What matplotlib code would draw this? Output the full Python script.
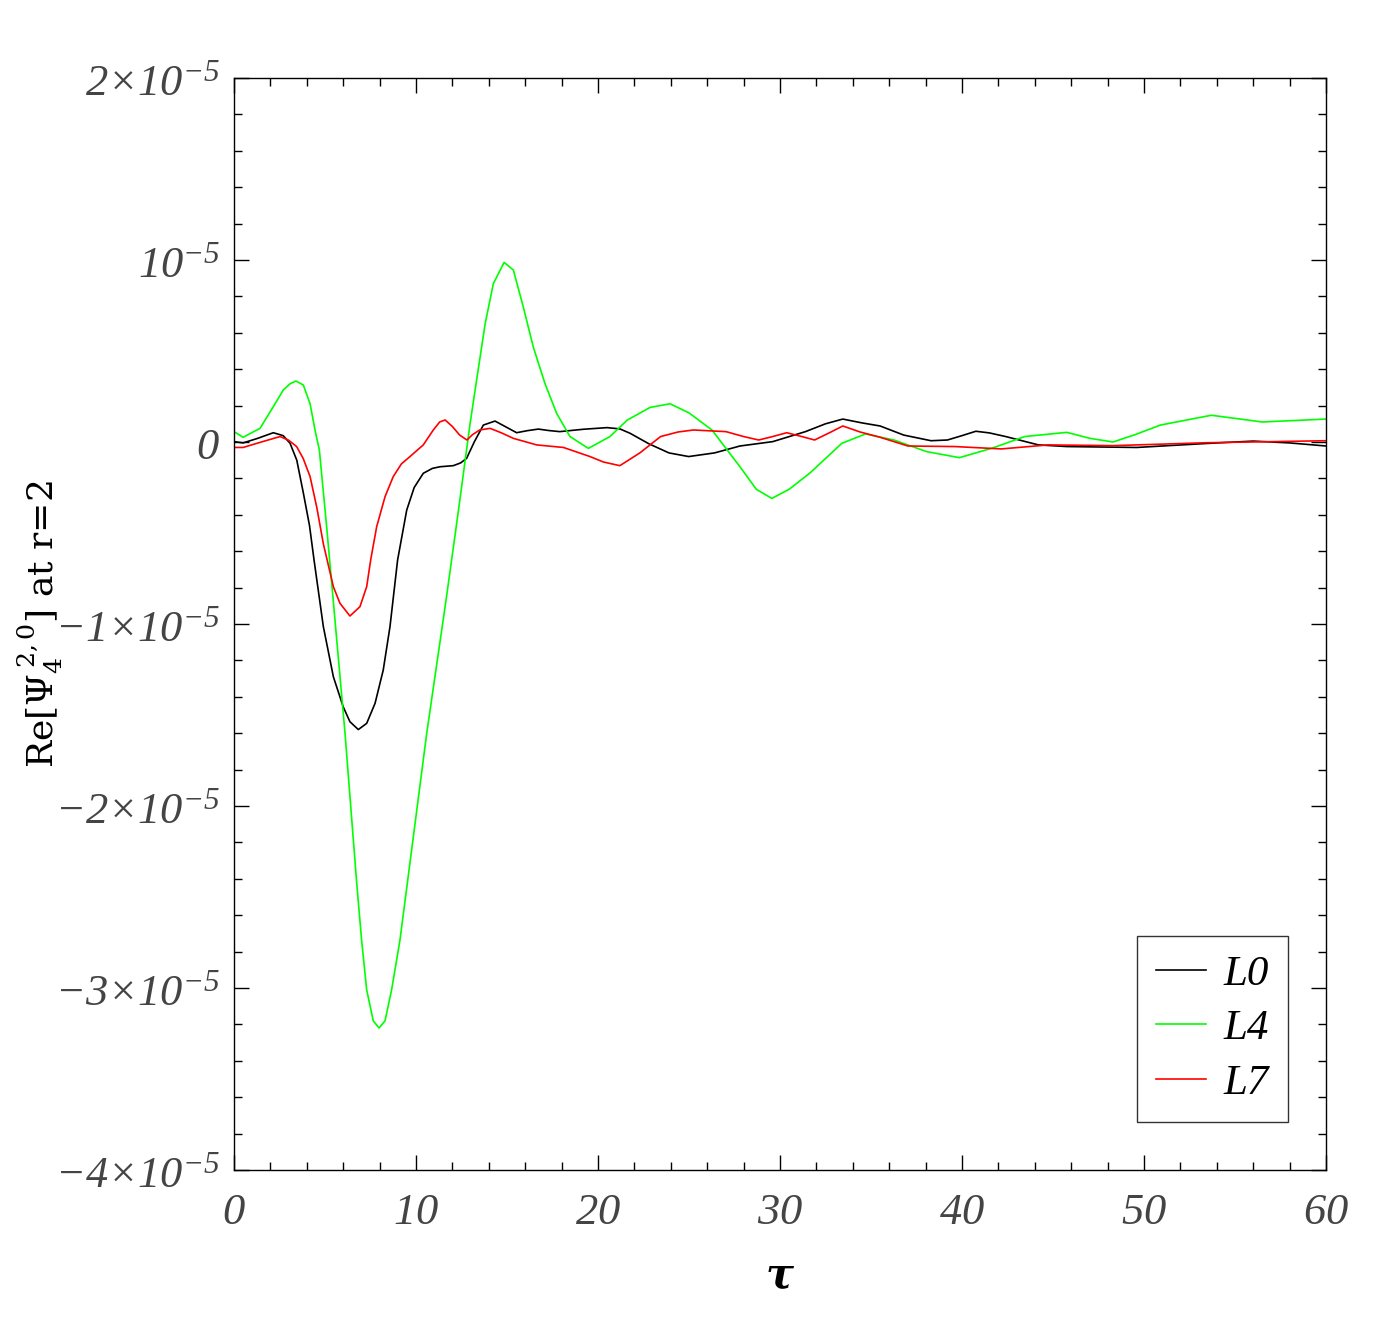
import numpy as np
import matplotlib
matplotlib.use("Agg")
import matplotlib.pyplot as plt
from matplotlib.ticker import MultipleLocator, FixedLocator

# values, y in units of 1e-5
tau_L0 = [0, 0.5, 1.3, 2.16, 2.7, 3.08, 3.45, 3.81, 4.15, 4.4, 4.91, 5.46,
          6.0, 6.37, 6.83, 7.29, 7.75, 8.2, 8.57, 8.99, 9.49, 9.9, 10.4, 10.9,
          11.32, 12.05, 12.45, 12.78, 13.2, 13.7, 14.34, 14.9, 15.53, 16.1,
          16.72, 17.3, 17.9, 19.2, 20.5, 21.2, 21.76, 22.8, 23.9, 24.98, 26.4,
          27.8, 29.6, 31.4, 32.5, 33.45, 34.5, 35.5, 36.8, 38.3, 39.2, 40.0,
          40.76, 41.5, 42.4, 44.2, 45.76, 49.6, 53.45, 56, 58, 60]
val_L0 = [0.002, -0.005, 0.02, 0.051, 0.035, -0.007, -0.1, -0.28, -0.46, -0.65,
          -1.015, -1.29, -1.455, -1.537, -1.58, -1.546, -1.436, -1.253, -1.015,
          -0.648, -0.374, -0.25, -0.172, -0.145, -0.136, -0.13, -0.115, -0.09,
          0.0, 0.093, 0.115, 0.085, 0.051, 0.062, 0.071, 0.063, 0.057, 0.07,
          0.079, 0.072, 0.048, -0.01, -0.06, -0.08, -0.06, -0.022, 0.002, 0.057,
          0.1, 0.126, 0.105, 0.088, 0.038, 0.007, 0.011, 0.035, 0.059, 0.05,
          0.03, -0.016, -0.025, -0.03, -0.008, 0.005, -0.005, -0.022]

tau_L4 = [0, 0.5, 1.43, 2.16, 2.71, 3.08, 3.4, 3.81, 4.18, 4.45, 4.69, 5.09,
          5.55, 6.1, 6.74, 7.01, 7.29, 7.65, 7.97, 8.3, 8.66, 9.12, 10.59,
          11.65, 12.3, 12.97, 13.33, 13.8, 14.25, 14.84, 15.35, 15.9, 16.45,
          17.09, 17.73, 18.46, 19.47, 20.66, 21.6, 22.86, 23.96, 25.0, 26.26,
          27.8, 28.7, 29.55, 30.5, 31.65, 33.4, 34.7, 36.26, 38.06, 39.86,
          41.65, 43.45, 45.76, 47.03, 48.3, 49.5, 50.9, 53.7, 56.5, 60]
val_L4 = [0.057, 0.026, 0.075, 0.194, 0.286, 0.32, 0.335, 0.313, 0.21, 0.066,
          -0.044, -0.465, -0.98, -1.6, -2.42, -2.736, -3.01, -3.18, -3.22,
          -3.18, -3.01, -2.736, -1.6, -0.87, -0.4, 0.1, 0.34, 0.65, 0.87, 0.987,
          0.945, 0.74, 0.52, 0.32, 0.157, 0.03, -0.035, 0.03, 0.12, 0.19, 0.21,
          0.16, 0.066, -0.136, -0.26, -0.31, -0.26, -0.17, -0.007, 0.044, 0.011,
          -0.053, -0.086, -0.034, 0.03, 0.053, 0.02, 0.0, 0.04, 0.093, 0.147,
          0.11, 0.126]

tau_L7 = [0, 0.5, 1.5, 2.53, 3.0, 3.44, 3.8, 4.18, 4.55, 4.91, 5.46, 5.82,
          6.37, 6.92, 7.29, 7.51, 7.84, 8.3, 8.75, 9.2, 9.67, 10.4, 10.95, 11.3,
          11.6, 12.0, 12.4, 12.8, 13.1, 13.5, 14.07, 14.7, 15.35, 16.63, 18.1,
          19.56, 20.3, 21.2, 22.3, 23.44, 24.4, 25.24, 27.03, 28.0, 28.83,
          29.6, 30.37, 31.2, 31.9, 32.7, 33.45, 34.4, 35.5, 37.03, 39.6, 42.17,
          44.73, 48.3, 53.45, 60]
val_L7 = [-0.03, -0.03, 0.0, 0.03, 0.01, -0.025, -0.09, -0.19, -0.36, -0.56,
          -0.795, -0.886, -0.956, -0.905, -0.795, -0.648, -0.465, -0.3, -0.19,
          -0.12, -0.08, -0.016, 0.066, 0.11, 0.121, 0.085, 0.038, 0.011, 0.04,
          0.066, 0.075, 0.05, 0.02, -0.016, -0.03, -0.08, -0.11, -0.13, -0.06,
          0.03, 0.055, 0.066, 0.057, 0.03, 0.011, 0.03, 0.051, 0.03, 0.011,
          0.05, 0.088, 0.055, 0.026, -0.022, -0.025, -0.038, -0.016, -0.02,
          -0.004, 0.007]

labels = ["L0", "L4", "L7"]
colors = ["black", "#00ff00", "#ff0000"]

xtick_vals = [0, 10, 20, 30, 40, 50, 60]
ytick_vals = [2, 1, 0, -1, -2, -3, -4]
ytick_text = [r"$2{\times}10^{-5}$", r"$10^{-5}$", r"$0$", r"$-1{\times}10^{-5}$",
              r"$-2{\times}10^{-5}$", r"$-3{\times}10^{-5}$", r"$-4{\times}10^{-5}$"]

plt.rcParams["mathtext.fontset"] = "custom"
plt.rcParams["mathtext.rm"] = "Liberation Serif:italic"
plt.rcParams["mathtext.it"] = "Liberation Serif:italic"
plt.rcParams["mathtext.sf"] = "DejaVu Serif"
plt.rcParams["font.family"] = "DejaVu Serif"

fig = plt.figure(figsize=(13.94, 13.32), dpi=100)
ax = fig.add_axes([234 / 1394, 1 - 1170 / 1332, 1092 / 1394, 1092 / 1332])

series = [(tau_L0, val_L0), (tau_L4, val_L4), (tau_L7, val_L7)]
for (t, v), lab, c in zip(series, labels, colors):
    ax.plot(t, np.array(v) * 1e-5, color=c, lw=1.2, label=lab)

ax.set_xlim(0, 60)
ax.set_ylim(-4e-5, 2e-5)

ax.xaxis.set_major_locator(FixedLocator(xtick_vals))
ax.xaxis.set_minor_locator(MultipleLocator(2))
ax.yaxis.set_major_locator(FixedLocator([v * 1e-5 for v in ytick_vals]))
ax.yaxis.set_minor_locator(MultipleLocator(0.2e-5))
ax.set_yticklabels(ytick_text)
ax.set_xticklabels([r"$%d$" % v for v in xtick_vals])

ax.tick_params(which="both", direction="in", top=True, right=True,
               width=1.0, colors="black", labelcolor="#444444", labelsize=32)
ax.tick_params(which="major", length=11)
ax.tick_params(axis="y", which="major", pad=10)
ax.tick_params(axis="x", which="major", pad=14)
ax.tick_params(which="minor", length=6)
for s in ax.spines.values():
    s.set_linewidth(1.0)

ax.set_xlabel("τ", fontsize=30, fontstyle="italic", fontweight="bold", labelpad=16)
ax.set_ylabel(r"Re[$\mathsf{\Psi_4^{\ 2,0}}$] at r=2", fontsize=26)
ax.yaxis.set_label_coords(-0.155, 0.5)

leg = ax.legend(loc="lower right", bbox_to_anchor=(0.965, 0.044), fontsize=31,
                frameon=True, fancybox=False, edgecolor="black", handlelength=1.15,
                handletextpad=0.4, borderpad=0.45, labelspacing=0.35,
                borderaxespad=0)
leg.get_frame().set_linewidth(1.0)
for t in leg.get_texts():
    t.set_fontstyle("italic")
    t.set_family("Liberation Serif")

fig.savefig("out.png", dpi=100)
